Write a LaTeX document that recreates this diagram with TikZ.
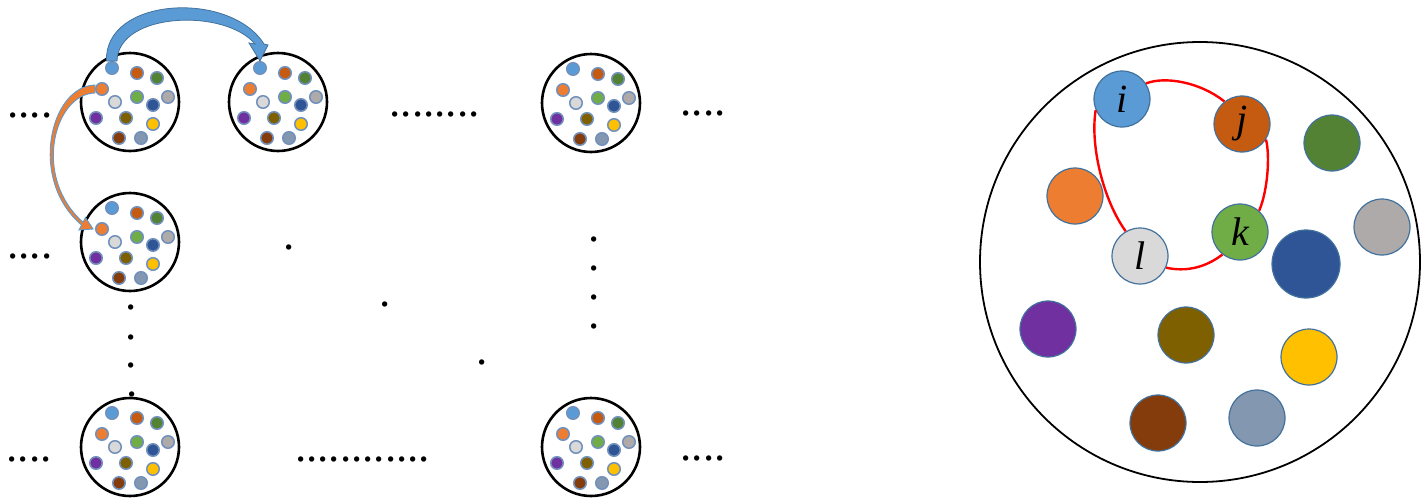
\documentclass[tikz,border=0pt]{standalone}
\usepackage{fontspec}
\newfontfamily\dotfont{Liberation Serif}
\newfontfamily\letfont{Liberation Serif}
\usetikzlibrary{calc}
\definecolor{cLB}{HTML}{5B9BD5}
\definecolor{cDO}{HTML}{C55A11}
\definecolor{cDG}{HTML}{548235}
\definecolor{cOR}{HTML}{ED7D31}
\definecolor{cLG}{HTML}{D9D9D9}
\definecolor{cGR}{HTML}{70AD47}
\definecolor{cGY}{HTML}{AEAAAA}
\definecolor{cDB}{HTML}{2F5597}
\definecolor{cPU}{HTML}{7030A0}
\definecolor{cOL}{HTML}{7F6000}
\definecolor{cYE}{HTML}{FFC000}
\definecolor{cBR}{HTML}{843C0C}
\definecolor{cBG}{HTML}{8497B0}
\definecolor{cOut}{HTML}{41719C}
\definecolor{cSOut}{HTML}{7191BC}
\tikzset{
  cellc/.style={circle, draw=black, line width=2.6pt, fill=white, inner sep=0pt, minimum size=98pt},
  sdot/.style={circle, draw=cSOut, line width=1.5pt, inner sep=0pt, minimum size=12.5pt},
  bigc/.style={circle, draw=black, line width=1.8pt, inner sep=0pt, minimum size=440pt},
  bdot/.style={circle, draw=cOut, line width=1.2pt, inner sep=0pt, minimum size=56pt,
    font=\letfont\itshape\fontsize{40}{40}\selectfont},
  dotsty/.style={font=\dotfont\fontsize{45}{45}\selectfont, inner sep=0pt, anchor=base},
  redl/.style={draw=red, line width=2.4pt},
  barrow/.style={fill=cLB, draw=cOut, line width=0.8pt},
  oarrow/.style={fill=cOR, draw=cLB, line width=0.9pt},
}
\newcommand{\mkcell}[3]{%
  \node[cellc] (#1) at (#2,#3) {};
  \begin{scope}[shift={(#2,#3)}]
    \foreach \dx/\dy/\col/\n in {-18/-34/cLB/1, 7/-29/cDO/2, 27/-24/cDG/3, -28/-13/cOR/4,
      -15/0/cLG/5, 7/-5/cGR/6, 38/-5/cGY/7, 23/3/cDB/8, -34/16/cPU/9, -4/16/cOL/10,
      23/22/cYE/11, -11/36/cBR/12, 11/36/cBG/13}
      \node[sdot, fill=\col] (#1-\n) at (\dx,\dy) {};
  \end{scope}}
\begin{document}
\begin{tikzpicture}[x=1pt, y=-1pt]
\useasboundingbox (0,0) rectangle (1422,498);
% small cells
\mkcell{c1}{130}{102}
\mkcell{c2}{278}{102}
\mkcell{c3}{591}{103}
\mkcell{c4}{130}{242}
\mkcell{c5}{130}{447}
\mkcell{c6}{591}{447}
% dot rows
\node[dotsty] (r1) at (30,117) {....};
\node[dotsty] (r2) at (30,258) {....};
\node[dotsty] (r3) at (29,461) {....};
\node[dotsty] (r4) at (703,115) {....};
\node[dotsty] (r5) at (703,460) {....};
\node[dotsty] (r6) at (434.5,116) {........};
\node[dotsty] (r7) at (362.5,461) {............};
\foreach \x/\y [count=\k] in {289/247, 385/304, 482/362, 131/307, 131/337, 131/365, 132/394,
  594/239, 594/268, 594/297, 594/326}
  \node[dotsty] (s\k) at (\x,\y+2) {.};
% arrows
\filldraw[barrow] ([xshift=-5.5pt]c1-1.north) .. controls (104,-3) and (230,-10) ..
  ([xshift=4pt,yshift=17pt]c2-1.north) -- ([xshift=8pt,yshift=16pt]c2-1.north) --
  (c2-1.north) -- ([xshift=-11pt,yshift=18pt]c2-1.north) --
  ([xshift=-5pt,yshift=17pt]c2-1.north) .. controls (225,8) and (118,12) ..
  ([xshift=5pt]c1-1.north) -- cycle;
\filldraw[oarrow] ([yshift=4pt]c1-4.west) .. controls (50,86) and (28,180) ..
  ([xshift=-13.4pt,yshift=4pt]c4-4.west) -- ([xshift=-16pt,yshift=-1pt]c4-4.west) --
  ([xshift=-2pt]c4-4.west) -- ([xshift=-9.5pt,yshift=11.6pt]c4-4.west) --
  ([xshift=-12pt,yshift=6.8pt]c4-4.west) .. controls (32,177) and (54,94) ..
  ([yshift=-4pt]c1-4.west) -- cycle;
% big circle
\node[bigc] (B) at (1200,262) {};
\node[bdot, fill=cLB] (i) at (1122,99) {i};
\node[bdot, fill=cDO] (j) at (1242,124) {j};
\node[bdot, fill=cDG] (b3) at (1332,143) {};
\node[bdot, fill=cOR] (b4) at (1075,196) {};
\node[bdot, fill=cGY] (b7) at (1382,227) {};
\node[bdot, fill=cGR] (k) at (1240,232) {k};
\node[bdot, fill=cLG] (l) at (1140,256) {l};
\node[bdot, fill=cDB, minimum size=68pt] (b8) at (1306,264) {};
\node[bdot, fill=cPU] (b9) at (1048,329) {};
\node[bdot, fill=cOL] (b10) at (1186,335) {};
\node[bdot, fill=cYE] (b11) at (1309,357) {};
\node[bdot, fill=cBR] (b12) at (1158,423) {};
\node[bdot, fill=cBG] (b13) at (1257,418) {};
\draw[redl] (i.33) .. controls (1165,76) and (1200,82) .. (j.128);
\draw[redl] (j.-33) .. controls (1270,155) and (1268,190) .. (k.48);
\draw[redl] (k.232) .. controls (1205,268) and (1185,272) .. (l.-24);
\draw[redl] (l.120) .. controls (1103,200) and (1090,145) .. (i.203);
\end{tikzpicture}
\end{document}
